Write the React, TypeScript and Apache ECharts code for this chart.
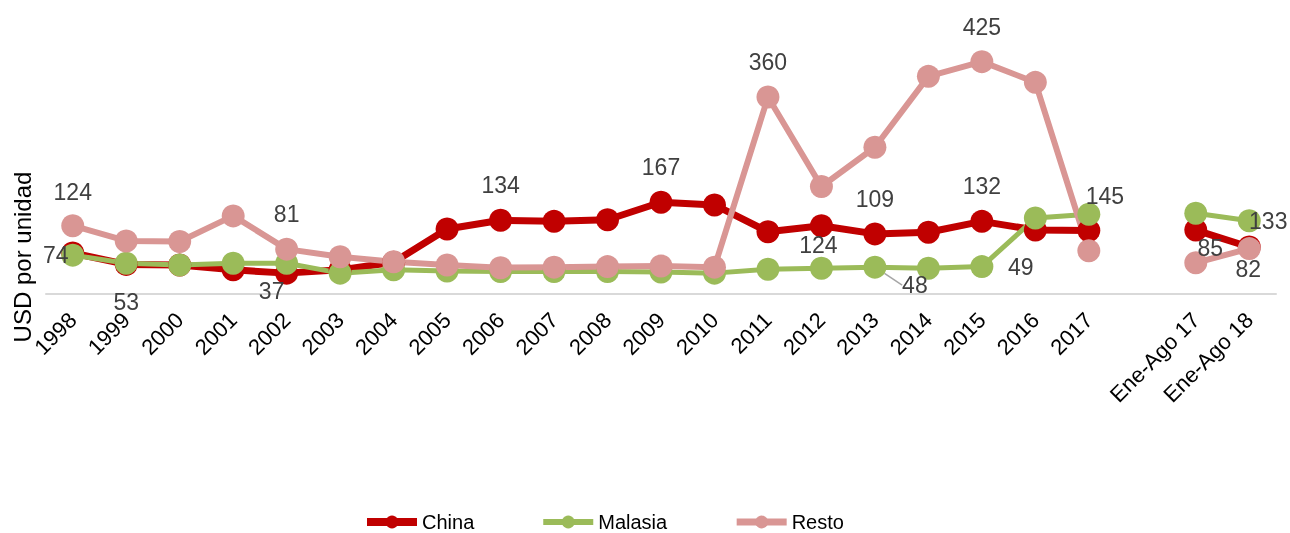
import React, { useEffect, useRef } from "react";
import * as echarts from "echarts";

const categories = [
  "1998", "1999", "2000", "2001", "2002", "2003", "2004", "2005", "2006", "2007",
  "2008", "2009", "2010", "2011", "2012", "2013", "2014", "2015", "2016", "2017",
  "", "Ene-Ago 17", "Ene-Ago 18",
];
const seriesNames = ["China", "Malasia", "Resto"];
const chinaValues = [74, 53, 52, 43, 37, 43, 57, 118, 134, 132, 135, 167, 162, 113, 124, 109, 112, 132, 116, 115, null, 116, 85];
const malasiaValues = [70, 55, 52, 55, 55, 37, 43, 41, 40, 40, 40, 39, 37, 44, 46, 48, 46, 49, 138, 145, null, 147, 133];
const restoValues = [124, 96, 95, 142, 81, 67, 58, 52, 47, 48, 49, 50, 48, 360, 196, 268, 398, 425, 387, 78, null, 56, 82];
const yAxisTitle = "USD por unidad";

// label placement (offset of label centre from the point), style only
const chinaLabelPos: Record<number, [number, number]> = {
  0: [-17, 2], 1: [0, 38], 4: [-15, 18], 8: [0, -35], 11: [0, -35],
  14: [-3, 19], 15: [0, -35], 17: [0, -35], 22: [-39, 1],
};
const malasiaLabelPos: Record<number, [number, number]> = {
  15: [40, 18], 17: [39, 0], 19: [16, -18], 22: [19, 0],
};
const restoLabelPos: Record<number, [number, number]> = {
  0: [0, -34], 4: [0, -35], 13: [0, -35], 17: [0, -35], 22: [-1, 20],
};
const leaderLines: Record<string, number[]> = { Malasia: [15] };

const FONT = "'Liberation Sans', Arial, sans-serif";
const colors = ["#C00000", "#9BBB59", "#D99694"];
const widths = [7, 5, 6];

function buildData(name: string, values: (number | null)[], pos: Record<number, [number, number]>) {
  return values.map((v, i) => {
    if (v === null) return "-";
    const p = pos[i];
    if (!p) return v;
    const item: any = {
      value: v,
      label: {
        show: true,
        position: "inside",
        offset: p,
        fontSize: 23,
        color: "#404040",
        fontFamily: FONT,
        align: "center",
        verticalAlign: "middle",
      },
    };
    if ((leaderLines[name] || []).includes(i)) {
      item.labelLine = { show: true, lineStyle: { color: "#A6A6A6", width: 1.5 } };
    }
    return item;
  });
}

export default function App() {
  const ref = useRef<HTMLDivElement>(null);
  useEffect(() => {
    if (!ref.current) return;
    const chart = echarts.init(ref.current, undefined, { renderer: "svg" });
    const all = [chinaValues, malasiaValues, restoValues];
    const pos = [chinaLabelPos, malasiaLabelPos, restoLabelPos];
    chart.setOption({
      animation: false,
      textStyle: { fontFamily: FONT },
      grid: { left: 46, width: 1230, top: 48, height: 245.3, containLabel: false },
      legend: {
        left: 358,
        top: 507,
        itemWidth: 50,
        itemHeight: 16,
        itemGap: 66,
        textStyle: { fontSize: 20, color: "#000", fontFamily: FONT },
        data: seriesNames.map((name, k) => ({
          name,
          lineStyle: { width: widths[k] + 1, color: colors[k] },
          itemStyle: { color: colors[k] },
        })),
      },
      graphic: [
        {
          type: "text",
          x: 22,
          y: 257,
          rotation: Math.PI / 2,
          style: {
            text: yAxisTitle,
            fontSize: 24,
            fill: "#000",
            fontFamily: FONT,
            align: "center",
            verticalAlign: "middle",
          },
        },
      ],
      xAxis: {
        type: "category",
        data: categories,
        boundaryGap: true,
        axisLine: { lineStyle: { color: "#D9D9D9", width: 2 } },
        axisTick: { show: false },
        axisLabel: {
          interval: 0,
          rotate: 45,
          fontSize: 22,
          color: "#000",
          fontFamily: FONT,
          margin: 23,
        },
      },
      yAxis: {
        type: "value",
        min: 0,
        max: 450,
        show: true,
        axisLine: { show: false },
        axisTick: { show: false },
        axisLabel: { show: false },
        splitLine: { show: false },
      },
      series: seriesNames.map((name, k) => ({
        name,
        type: "line",
        data: buildData(name, all[k], pos[k]),
        connectNulls: false,
        symbol: "circle",
        symbolSize: 23,
        itemStyle: { color: colors[k] },
        lineStyle: { color: colors[k], width: widths[k] },
        label: { show: false },
        labelLine: { show: false },
        emphasis: { disabled: true },
      })),
    });
    return () => chart.dispose();
  }, []);
  return <div ref={ref} style={{ position: "fixed", left: 0, top: 0, width: 1290, height: 533 }} />;
}
